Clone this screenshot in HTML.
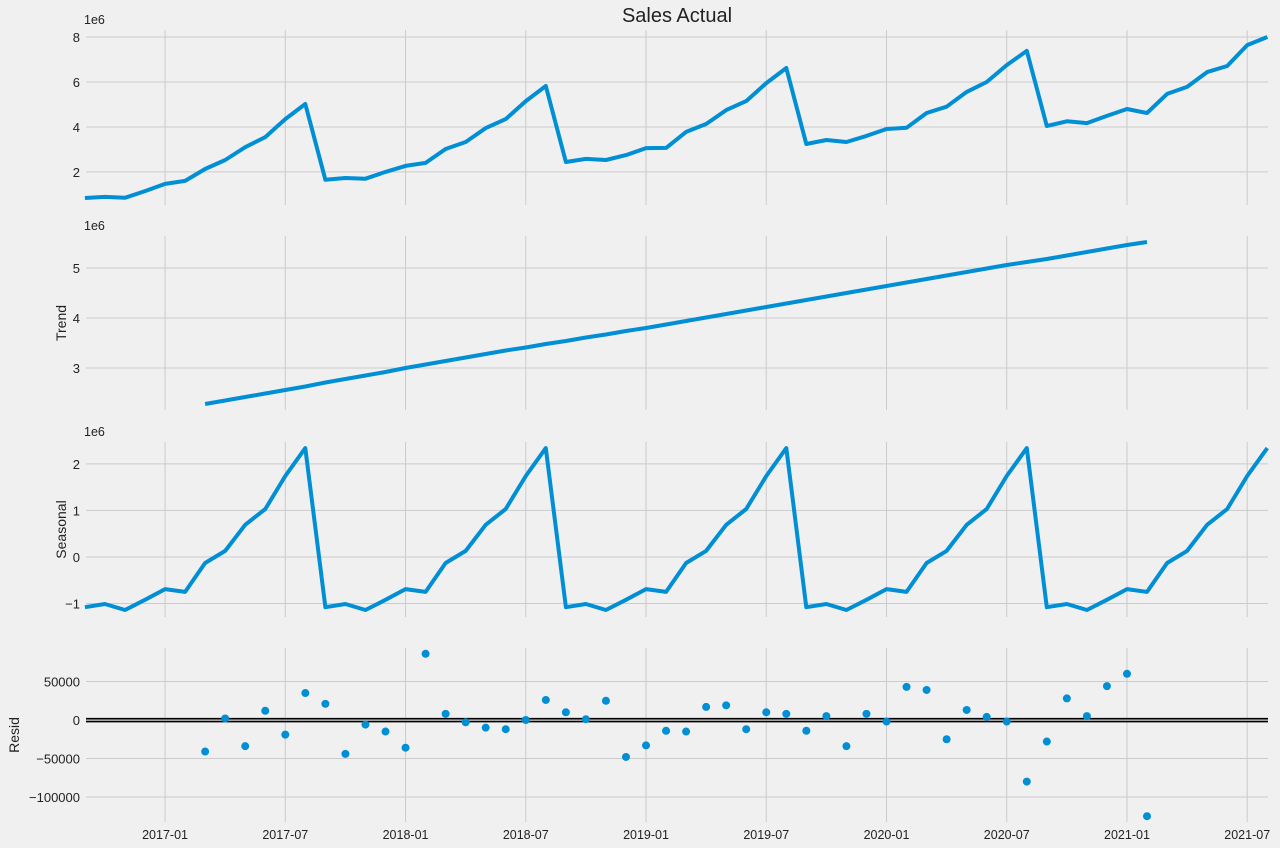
<!DOCTYPE html>
<html><head><meta charset="utf-8"><style>
html,body{margin:0;padding:0;background:#f0f0f0;}
svg{display:block;font-family:"Liberation Sans","DejaVu Sans",sans-serif;}
</style></head><body>
<svg id="chart" width="1280" height="848" viewBox="0 0 1280 848"></svg>
<script>
const sales=[0.84,0.89,0.85,1.15,1.47,1.6,2.13,2.53,3.1,3.55,4.35,5.02,1.65,1.73,1.7,2.0,2.27,2.4,3.02,3.33,3.95,4.35,5.15,5.82,2.44,2.58,2.53,2.75,3.06,3.07,3.78,4.13,4.75,5.15,5.95,6.62,3.24,3.42,3.33,3.6,3.91,3.96,4.62,4.9,5.56,6.0,6.75,7.38,4.04,4.25,4.17,4.49,4.8,4.62,5.47,5.78,6.44,6.71,7.64,8.0];
const trend=[2.28,2.35,2.42,2.49,2.56,2.63,2.71,2.78,2.85,2.92,3.0,3.07,3.14,3.21,3.28,3.35,3.41,3.48,3.54,3.61,3.67,3.74,3.8,3.87,3.94,4.01,4.08,4.15,4.22,4.29,4.36,4.43,4.5,4.57,4.64,4.71,4.78,4.85,4.92,4.99,5.06,5.12,5.18,5.25,5.32,5.39,5.46,5.52];
const trendStart=6;
const seasonalPattern=[-1.08,-1.01,-1.14,-0.92,-0.69,-0.75,-0.13,0.13,0.69,1.03,1.74,2.34];
const resid=[-41,2,-34,12,-19,35,21,-44,-6,-15,-36,86,8,-3,-10,-12,0,26,10,1,25,-48,-33,-14,-15,17,19,-12,10,8,-14,5,-34,8,-2,43,39,-25,13,4,-2,-80,-28,28,5,44,60,-125];
const residStart=6;
const xTickLabels=["2017-01","2017-07","2018-01","2018-07","2019-01","2019-07","2020-01","2020-07","2021-01","2021-07"];
const xTickIdx=[4,10,16,22,28,34,40,46,52,58];

const svg=document.getElementById('chart');
const NS='http://www.w3.org/2000/svg';
const X0=84.9,DX=20.04,PL=86,PR=1268;
const xs=i=>X0+i*DX;
function mk(t,a,p){const e=document.createElementNS(NS,t);for(const k in a)e.setAttribute(k,a[k]);(p||svg).appendChild(e);return e;}
const panels=[
 {name:'observed',top:30,bot:205,min:0.53,max:8.31,ticks:[2,4,6,8],lab:v=>String(v),label:null,lx:0,exp:true},
 {name:'trend',top:236,bot:410,min:2.16,max:5.64,ticks:[3,4,5],lab:v=>String(v),label:'Trend',lx:66,exp:true},
 {name:'seasonal',top:442,bot:617,min:-1.29,max:2.47,ticks:[-1,0,1,2],lab:v=>v<0?'\u2212'+(-v):String(v),label:'Seasonal',lx:66,exp:true},
 {name:'resid',top:648,bot:822,min:-132.5,max:93.5,ticks:[-100,-50,0,50],lab:v=>v<0?'\u2212'+(-v*1000):String(v*1000),label:'Resid',lx:19,exp:false}
];
panels.forEach((p,pi)=>{
 const g=mk('g',{});
 
 
 const ys=v=>p.bot-(v-p.min)/(p.max-p.min)*(p.bot-p.top);
 p.ys=ys;p.g=g;
 xTickIdx.forEach((ti,k)=>{
  const l=mk('line',{x1:xs(ti),x2:xs(ti),y1:p.top,y2:p.bot,stroke:'#cbcbcb','stroke-width':1},g);
  
  
  if(pi===3){const t=mk('text',{x:xs(ti),y:839,'text-anchor':'middle','font-size':12.5,fill:'#222'},g);t.textContent=xTickLabels[k];
   
   }
 });
 p.ticks.forEach(v=>{
  const l=mk('line',{x1:PL,x2:PR,y1:ys(v),y2:ys(v),stroke:'#cbcbcb','stroke-width':1},g);
  
  
  const t=mk('text',{x:80,y:ys(v)+5,'text-anchor':'end','font-size':13,fill:'#222'},g);t.textContent=p.lab(v);
  
  
 });
 if(p.exp){const t=mk('text',{x:84,y:p.top-6,'font-size':12.5,fill:'#222'},g);t.textContent='1e6';
  
  }
 if(p.label){const cy=(p.top+p.bot)/2;const t=mk('text',{x:0,y:0,transform:`translate(${p.lx},${cy}) rotate(-90)`,'text-anchor':'middle','font-size':14,fill:'#222'},g);t.textContent=p.label;
  
  }
});
const title=mk('text',{x:677,y:22,'text-anchor':'middle','font-size':20,fill:'#222'});
title.textContent='Sales Actual';


function line(p,vals,start,name){
 const d=vals.map((v,i)=>(i?'L':'M')+xs(i+start).toFixed(1)+','+p.ys(v).toFixed(1)).join('');
 const e=mk('path',{d,fill:'none',stroke:'#008fd5','stroke-width':4,'stroke-linejoin':'round'},p.g);
 
 
}
line(panels[0],sales,0,'sales-line');
line(panels[1],trend,trendStart,'trend-line');
const seasonal=sales.map((_,i)=>seasonalPattern[i%12]);
line(panels[2],seasonal,0,'seasonal-line');
const rp=panels[3];
[-1.3,1.6].forEach(o=>{const l=mk('line',{x1:PL,x2:PR,y1:rp.ys(0)+o,y2:rp.ys(0)+o,stroke:'#000','stroke-width':1.6},rp.g);
 
 });
resid.forEach((v,i)=>{const c=mk('circle',{cx:xs(i+residStart),cy:rp.ys(v),r:4,fill:'#008fd5'},rp.g);
 
 });
</script>
</body></html>
